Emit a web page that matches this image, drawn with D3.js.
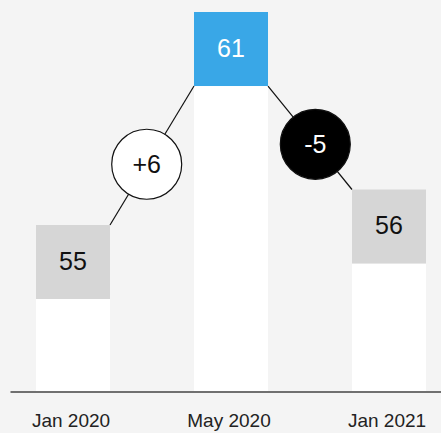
<!DOCTYPE html>
<html><head><meta charset="utf-8">
<script src="https://cdn.jsdelivr.net/npm/d3@7"></script>
<style>html,body{margin:0;padding:0;background:#f4f4f4;}svg{display:block;}</style>
</head><body>
<svg id="c" width="441" height="433"></svg>
<script>
const categories = ["Jan 2020", "May 2020", "Jan 2021"];
const values = [55, 61, 56];
const highlight = [false, true, false];
const changes = ["+6", "-5"];

const W = 441, H = 433;
const svg = d3.select("#c");
svg.append("rect").attr("width", W).attr("height", H).attr("fill", "#f4f4f4");

const baseY = 391;
const x = d3.scaleBand().domain(categories).range([10.5, 451.5]).paddingInner(0.5316).paddingOuter(0.1613);
const y = d3.scaleLinear().domain([50, 61]).range([402.5, 12]);
const boxH = y(55) - y(57.085);

const data = categories.map((c, i) => ({c, v: values[i], hl: highlight[i]}));
const FONT = "'Liberation Sans', Arial, Helvetica, sans-serif";

// white bars
svg.selectAll("rect.bar").data(data).enter().append("rect")
  .attr("x", d => x(d.c)).attr("width", x.bandwidth())
  .attr("y", d => y(d.v) + boxH).attr("height", d => baseY - (y(d.v) + boxH))
  .attr("fill", "#ffffff");

// value boxes
svg.selectAll("rect.box").data(data).enter().append("rect")
  .attr("x", d => x(d.c)).attr("width", x.bandwidth())
  .attr("y", d => y(d.v)).attr("height", boxH)
  .attr("fill", d => d.hl ? "#39a7e7" : "#d6d6d6");

svg.selectAll("text.val").data(data).enter().append("text")
  .attr("x", d => x(d.c) + x.bandwidth() / 2)
  .attr("y", d => y(d.v) + boxH / 2 + 7.8)
  .attr("text-anchor", "middle")
  .attr("font-family", FONT)
  .attr("font-size", 25)
  .attr("fill", d => d.hl ? "#ffffff" : "#111111")
  .text(d => d.v);

// connectors and change circles
for (let i = 0; i < data.length - 1; i++) {
  const a = data[i], b = data[i + 1];
  const up = b.v > a.v;
  const p1 = up ? [x(a.c) + x.bandwidth(), y(a.v)] : [x(a.c) + x.bandwidth(), y(a.v) + boxH];
  const p2 = up ? [x(b.c), y(b.v) + boxH] : [x(b.c), y(b.v)];
  svg.append("line").attr("x1", p1[0]).attr("y1", p1[1]).attr("x2", p2[0]).attr("y2", p2[1])
    .attr("stroke", "#111").attr("stroke-width", 1.2);
  const t = up ? 0.437 : 0.563;
  const cx = p1[0] + (p2[0] - p1[0]) * t, cy = p1[1] + (p2[1] - p1[1]) * t;
  svg.append("circle").attr("cx", cx).attr("cy", cy).attr("r", 35)
    .attr("fill", up ? "#ffffff" : "#000000").attr("stroke", "#111").attr("stroke-width", 1.2);
  svg.append("text").attr("x", cx).attr("y", cy + 9)
    .attr("text-anchor", "middle")
    .attr("font-family", FONT)
    .attr("font-size", 25)
    .attr("fill", up ? "#111111" : "#ffffff")
    .text(changes[i]);
}

// baseline
svg.append("line").attr("x1", 10.5).attr("x2", W).attr("y1", 392).attr("y2", 392)
  .attr("stroke", "#444").attr("stroke-width", 1.5);

// axis labels
const xAxis = d3.axisBottom(x).tickSize(0).tickPadding(0);
const g = svg.append("g").attr("transform", "translate(-2,413)").call(xAxis);
g.select(".domain").remove();
g.selectAll("text")
  .attr("font-family", FONT)
  .attr("font-size", 19)
  .attr("fill", "#222");
</script>
</body></html>
